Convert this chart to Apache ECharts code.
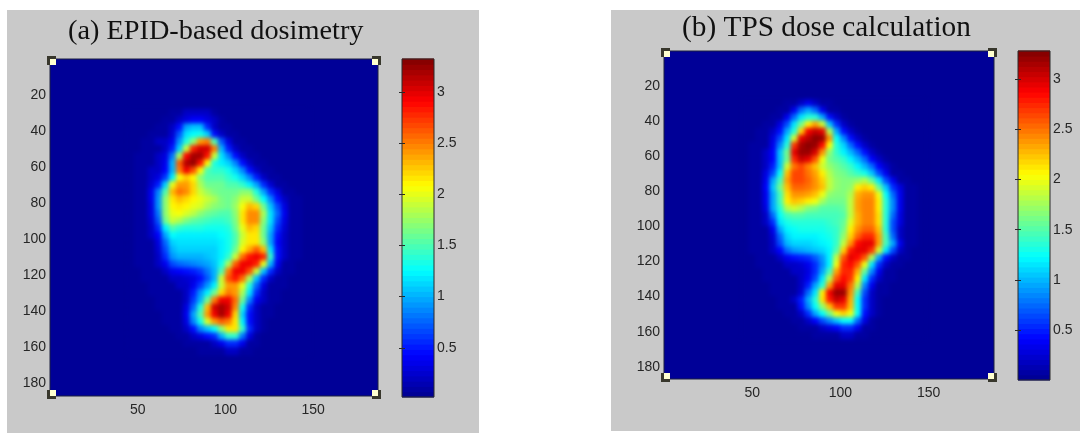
<!DOCTYPE html>
<html><head><meta charset="utf-8">
<style>
html,body{margin:0;padding:0;background:#fff;width:1080px;height:434px;overflow:hidden}
.panel{position:absolute;background:#c9c9c9}
.clip{position:absolute;overflow:hidden;background:#000097}
.heat{position:absolute;left:0;top:0;width:100%;height:100%;filter:blur(2.2px)}
#main{position:absolute;left:0;top:0;width:1080px;height:434px}
</style>
<script src="https://cdn.jsdelivr.net/npm/echarts@6/dist/echarts.min.js"></script>
</head><body>
<div class="panel" style="left:7px;top:10px;width:472px;height:423px"></div>
<div class="panel" style="left:611px;top:10px;width:469px;height:421px"></div>
<div class="clip" style="left:50px;top:59px;width:328px;height:337px"><div class="heat" id="heatA"></div></div>
<div class="clip" style="left:664px;top:51px;width:330px;height:328px"><div class="heat" id="heatB"></div></div>
<div id="main"></div>
<script>
var titleA = '(a) EPID-based dosimetry';
var titleB = '(b) TPS dose calculation';
var imageSize = 187;
var colsX = [46,50,54,58,62,66,70,74,78,82,86,90,94,98,102,106,110,114,118,122,126,130,134,138,142,146];
var rowsY = [30,34,38,42,46,50,54,58,62,66,70,74,78,82,86,90,94,98,102,106,110,114,118,122,126,130,134,138,142,146,150,154,158,162];
var jet = ['#00008f','#0000ff','#007fff','#00ffff','#7fff7f','#ffff00','#ff7f00','#ff0000','#800000'];
var colorbarTicks = [0.5,1,1.5,2,2.5,3];
var colorbarMinA = 0.02, colorbarMaxA = 3.32, colorbarMinB = 0, colorbarMaxB = 3.284;
var doseA = [
[.03,.03,.03,.03,.03,.03,.07,.07,.2,.2,.2,.2,.07,.03,.03,.03,.03,.03,.03,.03,.03,.03,.03,.03,.03,.03],
[.03,.03,.03,.03,.03,.07,.07,.2,.3,.4,.4,.3,.2,.07,.03,.03,.03,.03,.03,.03,.03,.03,.03,.03,.03,.03],
[.03,.03,.03,.03,.07,.07,.2,.45,.95,1.05,1.05,.55,.2,.07,.07,.03,.03,.03,.03,.03,.03,.03,.03,.03,.03,.03],
[.03,.03,.03,.07,.07,.07,.25,.7,1.15,1.25,1.3,1.1,.45,.2,.07,.07,.03,.03,.03,.03,.03,.03,.03,.03,.03,.03],
[.03,.03,.07,.07,.2,.2,.35,.9,1.35,1.7,2.4,2.5,1.5,.7,.3,.07,.07,.03,.03,.03,.03,.03,.03,.03,.03,.03],
[.03,.03,.07,.07,.07,.2,.5,1.1,1.9,2.8,3.05,3.05,2.5,1,.5,.2,.07,.07,.03,.03,.03,.03,.03,.03,.03,.03],
[.03,.07,.07,.07,.2,.3,.8,1.8,2.9,3.2,3.2,2.85,1.9,1.15,.85,.45,.2,.07,.07,.03,.03,.03,.03,.03,.03,.03],
[.03,.07,.07,.07,.2,.35,1,2.6,3.15,3.25,2.85,2.1,1.35,1.2,1.1,.85,.45,.2,.07,.07,.03,.03,.03,.03,.03,.03],
[.03,.07,.07,.2,.2,.4,1,2.5,2.95,2.65,2.1,1.5,1.4,1.4,1.3,1.1,.85,.45,.2,.07,.07,.03,.03,.03,.03,.03],
[.03,.07,.07,.2,.3,.6,1.2,2.05,2.25,2.1,1.7,1.5,1.5,1.5,1.4,1.3,1.1,.85,.5,.2,.07,.07,.03,.03,.03,.03],
[.03,.07,.07,.25,.5,1.1,2,2.4,2.4,2.2,1.8,1.6,1.6,1.6,1.5,1.5,1.4,1.2,.95,.55,.25,.07,.07,.03,.03,.03],
[.03,.07,.07,.35,.85,1.5,2.3,2.55,2.45,2.2,1.9,1.75,1.65,1.6,1.6,1.6,1.7,1.7,1.35,.95,.55,.3,.07,.07,.03,.03],
[.03,.07,.07,.35,.9,1.7,2.15,2.3,2.2,2.1,2,1.9,1.8,1.65,1.6,1.7,1.9,1.9,1.6,1.25,.85,.45,.2,.07,.07,.03],
[.03,.07,.07,.3,.9,1.7,2.1,2.15,2.1,2,1.95,1.8,1.7,1.65,1.6,1.75,2.05,2.3,2.2,1.6,1.05,.65,.3,.07,.07,.03],
[.03,.07,.07,.3,.8,1.7,2,2.05,1.95,1.85,1.7,1.6,1.55,1.5,1.5,1.7,2.15,2.45,2.45,1.8,1.15,.75,.35,.07,.07,.03],
[.03,.07,.07,.25,.7,1.6,1.9,1.8,1.65,1.55,1.5,1.45,1.4,1.4,1.45,1.65,2.15,2.45,2.45,1.7,1.15,.65,.3,.07,.07,.03],
[.03,.07,.07,.2,.55,1.2,1.5,1.4,1.35,1.35,1.35,1.3,1.3,1.3,1.35,1.6,2,2.3,2.2,1.6,1.05,.55,.25,.07,.07,.03],
[.03,.07,.07,.2,.4,.95,1.25,1.2,1.2,1.2,1.2,1.2,1.2,1.25,1.3,1.5,1.9,2.15,2.15,1.6,.95,.45,.2,.07,.07,.03],
[.03,.07,.07,.07,.3,.75,1.1,1.15,1.15,1.15,1.15,1.15,1.15,1.2,1.3,1.5,1.95,2.15,2.15,1.7,.95,.4,.2,.07,.07,.03],
[.03,.07,.07,.07,.25,.65,1,1.1,1.1,1.1,1.1,1.1,1.1,1.2,1.3,1.6,2.1,2.35,2.6,2.3,1.15,.45,.2,.07,.07,.03],
[.03,.07,.07,.07,.2,.55,.9,1,1,1,1,1.05,1.1,1.2,1.4,1.9,2.55,2.85,2.95,2.8,1.4,.45,.2,.07,.07,.03],
[.03,.07,.07,.07,.2,.35,.65,.75,.8,.85,.9,.95,1.05,1.3,1.8,2.6,2.95,2.95,2.8,2,1,.35,.07,.07,.03,.03],
[.03,.03,.07,.07,.07,.2,.35,.4,.45,.5,.6,.8,1,1.5,2.5,2.95,2.95,2.65,1.9,1.05,.55,.2,.07,.07,.03,.03],
[.03,.03,.07,.07,.07,.07,.2,.2,.25,.3,.45,.7,1,1.9,2.65,2.85,2.55,1.8,1.05,.55,.2,.07,.07,.03,.03,.03],
[.03,.03,.03,.07,.07,.07,.07,.2,.2,.35,.6,.9,1.2,1.9,2.4,2.4,2,1.35,.75,.3,.07,.07,.07,.03,.03,.03],
[.03,.03,.03,.07,.07,.07,.07,.07,.2,.5,.9,1.2,1.6,2.2,2.5,2.4,1.8,1.15,.55,.2,.07,.07,.03,.03,.03,.03],
[.03,.03,.03,.03,.07,.07,.07,.07,.2,.6,1,1.6,2.5,2.95,2.95,2.55,1.6,.85,.35,.2,.07,.07,.03,.03,.03,.03],
[.03,.03,.03,.03,.07,.07,.07,.07,.3,.75,1.35,2.3,3.05,3.2,3.05,2.45,1.3,.55,.2,.07,.07,.03,.03,.03,.03,.03],
[.03,.03,.03,.03,.03,.07,.07,.07,.35,.95,1.5,2.4,2.95,3.2,2.95,2.2,1.1,.45,.2,.07,.07,.03,.03,.03,.03,.03],
[.03,.03,.03,.03,.03,.07,.07,.07,.3,.85,1.3,1.95,2.4,2.6,2.5,2.15,1.2,.45,.2,.07,.03,.03,.03,.03,.03,.03],
[.03,.03,.03,.03,.03,.03,.07,.07,.2,.45,.85,1.05,1.25,1.7,2.15,2.15,1.4,.55,.2,.07,.03,.03,.03,.03,.03,.03],
[.03,.03,.03,.03,.03,.03,.03,.07,.07,.2,.3,.45,.55,1,1.4,1.4,.8,.3,.07,.03,.03,.03,.03,.03,.03,.03],
[.03,.03,.03,.03,.03,.03,.03,.03,.07,.07,.07,.07,.2,.35,.55,.55,.35,.07,.07,.03,.03,.03,.03,.03,.03,.03],
[.03,.03,.03,.03,.03,.03,.03,.03,.03,.03,.07,.07,.07,.07,.2,.2,.07,.07,.03,.03,.03,.03,.03,.03,.03,.03]
];
var doseB = [
[.03,.03,.03,.03,.03,.03,.07,.07,.2,.35,.2,.07,.07,.03,.03,.03,.03,.03,.03,.03,.03,.03,.03,.03,.03,.03],
[.03,.03,.03,.03,.03,.07,.07,.35,.75,.95,.75,.35,.07,.07,.03,.03,.03,.03,.03,.03,.03,.03,.03,.03,.03,.03],
[.03,.03,.03,.03,.07,.07,.35,.75,1.15,1.35,1.35,.95,.45,.2,.07,.03,.03,.03,.03,.03,.03,.03,.03,.03,.03,.03],
[.03,.03,.03,.07,.07,.3,.65,1.15,1.6,2.1,2.35,1.9,1.05,.55,.2,.07,.03,.03,.03,.03,.03,.03,.03,.03,.03,.03],
[.03,.03,.07,.07,.2,.45,.95,1.35,2.2,2.9,3.05,2.95,1.8,.95,.45,.2,.07,.03,.03,.03,.03,.03,.03,.03,.03,.03],
[.03,.03,.07,.07,.3,.65,1.15,1.9,2.95,3.1,3.25,3.2,2.4,1.25,.85,.45,.2,.07,.03,.03,.03,.03,.03,.03,.03,.03],
[.03,.07,.07,.07,.35,.85,1.35,2.7,3.15,3.25,3.2,2.85,2.05,1.35,1.1,.75,.45,.2,.07,.03,.03,.03,.03,.03,.03,.03],
[.03,.07,.07,.2,.4,1.05,1.6,2.95,3.2,3.2,3,2.4,1.7,1.4,1.2,1,.75,.45,.2,.07,.03,.03,.03,.03,.03,.03],
[.03,.07,.07,.2,.4,1.05,1.6,2.75,3.05,2.95,2.6,2,1.6,1.5,1.4,1.2,1,.75,.4,.2,.07,.03,.03,.03,.03,.03],
[.03,.07,.07,.2,.5,1.05,1.9,2.5,2.65,2.45,2.25,1.9,1.7,1.6,1.5,1.4,1.2,1,.75,.4,.2,.07,.03,.03,.03,.03],
[.03,.07,.07,.3,.65,1.25,2.25,2.65,2.65,2.5,2.35,2.1,1.8,1.65,1.6,1.5,1.4,1.3,1.05,.65,.35,.07,.07,.03,.03,.03],
[.03,.07,.07,.35,.95,1.45,2.35,2.65,2.65,2.55,2.4,2.2,1.85,1.7,1.65,1.65,1.7,1.8,1.55,1.15,.65,.35,.07,.07,.03,.03],
[.03,.07,.07,.4,1.05,1.6,2.25,2.55,2.55,2.5,2.4,2.25,1.85,1.7,1.65,1.7,2.1,2.2,2.1,1.55,1.05,.55,.3,.07,.07,.03],
[.03,.07,.07,.35,.95,1.45,2.15,2.4,2.4,2.35,2.25,2,1.7,1.65,1.65,1.8,2.3,2.4,2.4,2,1.25,.75,.35,.07,.07,.03],
[.03,.07,.07,.35,.95,1.45,2.1,2.25,2.2,2.1,2,1.75,1.6,1.6,1.6,1.85,2.35,2.45,2.45,2.1,1.35,.85,.35,.07,.07,.03],
[.03,.07,.07,.3,.95,1.35,1.8,1.9,1.8,1.65,1.6,1.5,1.5,1.5,1.55,1.85,2.35,2.45,2.45,2.1,1.35,.85,.35,.07,.07,.03],
[.03,.07,.07,.2,.75,1.25,1.45,1.5,1.5,1.45,1.45,1.45,1.45,1.45,1.5,1.85,2.3,2.45,2.45,2.15,1.35,.75,.3,.07,.07,.03],
[.03,.07,.07,.2,.55,1.15,1.3,1.35,1.35,1.35,1.35,1.35,1.4,1.45,1.55,1.95,2.3,2.45,2.45,2.15,1.35,.65,.3,.07,.07,.03],
[.03,.07,.07,.07,.35,.95,1.2,1.25,1.3,1.3,1.3,1.3,1.35,1.4,1.6,2.1,2.4,2.55,2.55,2.25,1.35,.65,.2,.07,.07,.03],
[.03,.07,.07,.07,.25,.75,1.1,1.2,1.2,1.2,1.2,1.25,1.3,1.4,1.7,2.2,2.55,2.75,2.75,2.35,1.45,.75,.2,.07,.07,.03],
[.03,.07,.07,.07,.2,.65,1,1.1,1.1,1.1,1.15,1.2,1.25,1.4,1.85,2.4,2.85,2.95,2.95,2.35,1.45,.95,.35,.07,.07,.03],
[.03,.07,.07,.07,.2,.4,.75,.9,.95,1,1.05,1.1,1.2,1.5,2.2,2.8,2.95,2.95,2.7,1.9,1.15,.65,.2,.07,.03,.03],
[.03,.03,.07,.07,.07,.2,.35,.45,.5,.55,.7,.9,1.2,1.85,2.6,2.95,2.85,2.6,1.8,.95,.45,.2,.07,.07,.03,.03],
[.03,.03,.07,.07,.07,.07,.2,.2,.25,.35,.55,.85,1.2,2,2.75,2.85,2.6,2,1.15,.55,.2,.07,.07,.03,.03,.03],
[.03,.03,.03,.07,.07,.07,.07,.2,.2,.3,.55,.95,1.45,2.35,2.75,2.75,2.3,1.55,.85,.35,.07,.07,.03,.03,.03,.03],
[.03,.03,.03,.07,.07,.07,.07,.07,.2,.35,.65,1.15,1.8,2.6,2.85,2.7,2.1,1.15,.55,.2,.07,.07,.03,.03,.03,.03],
[.03,.03,.03,.03,.07,.07,.07,.07,.2,.5,.95,1.35,2.35,2.95,2.95,2.5,1.8,.85,.35,.07,.07,.03,.03,.03,.03,.03],
[.03,.03,.03,.03,.07,.07,.07,.07,.25,.75,1.15,2.1,2.9,3.2,3.2,2.4,1.45,.65,.2,.07,.07,.03,.03,.03,.03,.03],
[.03,.03,.03,.03,.03,.07,.07,.2,.5,.95,1.35,2.15,2.8,3.05,2.95,2.3,1.25,.55,.2,.07,.03,.03,.03,.03,.03,.03],
[.03,.03,.03,.03,.03,.07,.07,.07,.45,.85,1.25,1.7,2.25,2.7,2.7,2.25,1.25,.55,.2,.07,.03,.03,.03,.03,.03,.03],
[.03,.03,.03,.03,.03,.03,.07,.07,.2,.55,.95,1.25,1.6,2,2.2,2,1.25,.45,.2,.07,.03,.03,.03,.03,.03,.03],
[.03,.03,.03,.03,.03,.03,.03,.07,.07,.2,.4,.65,.85,1.05,1.25,1.25,.75,.3,.07,.03,.03,.03,.03,.03,.03,.03],
[.03,.03,.03,.03,.03,.03,.03,.03,.07,.07,.07,.2,.3,.4,.55,.55,.35,.07,.07,.03,.03,.03,.03,.03,.03,.03],
[.03,.03,.03,.03,.03,.03,.03,.03,.03,.03,.07,.07,.07,.07,.2,.2,.07,.07,.03,.03,.03,.03,.03,.03,.03,.03]
];

function cells(m){
  var out=[];
  rowsY.forEach(function(y,r){ colsX.forEach(function(x,c){ out.push([x,y,m[r][c]]); }); });
  return out;
}
function renderCell(params, api){
  var a=api.coord([api.value(0)-2, api.value(1)-2]);
  var b=api.coord([api.value(0)+2, api.value(1)+2]);
  return {type:'rect', shape:{x:a[0]-0.5,y:a[1]-0.5,width:b[0]-a[0]+1,height:b[1]-a[1]+1}, style:{fill:api.visual('color')}};
}
function drawHeat(id, m, bottom, top){
  var c=echarts.init(document.getElementById(id),null,{renderer:'canvas'});
  c.setOption({
    animation:false,
    grid:{left:0,right:0,top:0,bottom:0},
    xAxis:{type:'value',min:0,max:imageSize,show:false},
    yAxis:{type:'value',min:0,max:imageSize,inverse:true,show:false},
    visualMap:{show:false,type:'continuous',min:bottom,max:top,dimension:2,inRange:{color:jet}},
    series:[{type:'custom',renderItem:renderCell,data:cells(m),encode:{x:0,y:1},silent:true}]
  });
}
drawHeat('heatA',doseA,0,colorbarMaxA);
drawHeat('heatB',doseB,0,colorbarMaxB);

var corners=[[0,0,1,1],[imageSize,0,-1,1],[0,imageSize,1,-1],[imageSize,imageSize,-1,-1]];
function renderHandle(params, api){
  var p=api.coord([api.value(0),api.value(1)]), sx=api.value(2), sy=api.value(3);
  var ox=sx>0?p[0]-3:p[0]-6, oy=sy>0?p[1]-3:p[1]-6;
  var ix=sx>0?p[0]:p[0]-6, iy=sy>0?p[1]:p[1]-6;
  return {type:'group',children:[
    {type:'rect',shape:{x:ox,y:oy,width:9,height:9},style:{fill:'#38372c'}},
    {type:'rect',shape:{x:ix,y:iy,width:6,height:6},style:{fill:'#ffffd0'}}
  ]};
}
var colorbarSteps = 64;
function bands(lo,hi){
  var out=[], d=(hi-lo)/colorbarSteps;
  for(var i=0;i<colorbarSteps;i++){ out.push([lo+i*d, lo+(i+1)*d, lo+(i+.5)*d]); }
  return out;
}
function renderBand(params, api){
  var a=api.coord([0,api.value(1)]), b=api.coord([1,api.value(0)]);
  return {type:'rect',shape:{x:a[0],y:a[1]-0.5,width:b[0]-a[0],height:b[1]-a[1]+1},style:{fill:api.visual('color')}};
}
var tickFont={color:'#262626',fontFamily:'"Liberation Sans",Arial,sans-serif',fontSize:14};
function plotX(g){return {gridIndex:g,type:'value',min:0,max:imageSize,interval:50,axisLine:{show:false},axisTick:{show:false},splitLine:{show:false},
  axisLabel:Object.assign({margin:7,showMinLabel:false,showMaxLabel:false},tickFont)};}
function plotY(g){return {gridIndex:g,type:'value',min:0,max:imageSize,interval:20,inverse:true,axisLine:{show:false},axisTick:{show:false},splitLine:{show:false},
  axisLabel:Object.assign({margin:4,showMinLabel:false,showMaxLabel:false},tickFont)};}
function barX(g){return {gridIndex:g,type:'value',show:false,min:0,max:1};}
function barY(g,lo,hi,pos){return {gridIndex:g,type:'value',min:lo,max:hi,position:pos,z:10,
  axisLine:{show:false},splitLine:{show:false},
  axisTick:{show:true,inside:true,length:3,lineStyle:{color:'#2a2a2a',width:1},customValues:colorbarTicks},
  axisLabel:pos==='right'?Object.assign({margin:3,customValues:colorbarTicks,formatter:function(v){return String(v);}},tickFont):{show:false}};}
function bandMap(idx,lo,hi){return {type:'continuous',show:false,seriesIndex:idx,min:lo,max:hi,dimension:2,inRange:{color:jet}};}
function bandSeries(xi,yi,lo,hi){return {type:'custom',coordinateSystem:'cartesian2d',xAxisIndex:xi,yAxisIndex:yi,renderItem:renderBand,data:bands(lo,hi),encode:{y:[0,1]},silent:true,z:3};}

var chart=echarts.init(document.getElementById('main'),null,{renderer:'canvas'});
chart.setOption({
  animation:false,
  backgroundColor:'transparent',
  title:[
    {text:titleA,left:68,top:18,padding:0,textStyle:{fontFamily:'"Liberation Serif","Times New Roman",serif',fontWeight:'normal',fontSize:28.3,color:'#111'}},
    {text:titleB,left:682,top:14,padding:0,textStyle:{fontFamily:'"Liberation Serif","Times New Roman",serif',fontWeight:'normal',fontSize:29.3,color:'#111'}}
  ],
  grid:[
    {left:50,top:59,width:328,height:337,show:true,backgroundColor:'transparent',borderColor:'#1c2040',borderWidth:1},
    {left:664,top:51,width:330,height:328,show:true,backgroundColor:'transparent',borderColor:'#1c2040',borderWidth:1},
    {left:402,top:59,width:32,height:338,show:true,backgroundColor:'transparent',borderColor:'#2a2a2a',borderWidth:1,z:10},
    {left:1018,top:51,width:32,height:329,show:true,backgroundColor:'transparent',borderColor:'#2a2a2a',borderWidth:1,z:10}
  ],
  xAxis:[plotX(0),plotX(1),barX(2),barX(3)],
  yAxis:[plotY(0),plotY(1),barY(2,colorbarMinA,colorbarMaxA,'right'),barY(2,colorbarMinA,colorbarMaxA,'left'),barY(3,colorbarMinB,colorbarMaxB,'right'),barY(3,colorbarMinB,colorbarMaxB,'left')],
  visualMap:[bandMap(2,colorbarMinA,colorbarMaxA),bandMap(3,colorbarMinB,colorbarMaxB)],
  series:[
    {type:'custom',coordinateSystem:'cartesian2d',xAxisIndex:0,yAxisIndex:0,renderItem:renderHandle,data:corners,encode:{x:0,y:1},clip:false,silent:true,z:8},
    {type:'custom',coordinateSystem:'cartesian2d',xAxisIndex:1,yAxisIndex:1,renderItem:renderHandle,data:corners,encode:{x:0,y:1},clip:false,silent:true,z:8},
    bandSeries(2,2,colorbarMinA,colorbarMaxA),
    bandSeries(3,4,colorbarMinB,colorbarMaxB)
  ]
});
</script>
</body></html>
